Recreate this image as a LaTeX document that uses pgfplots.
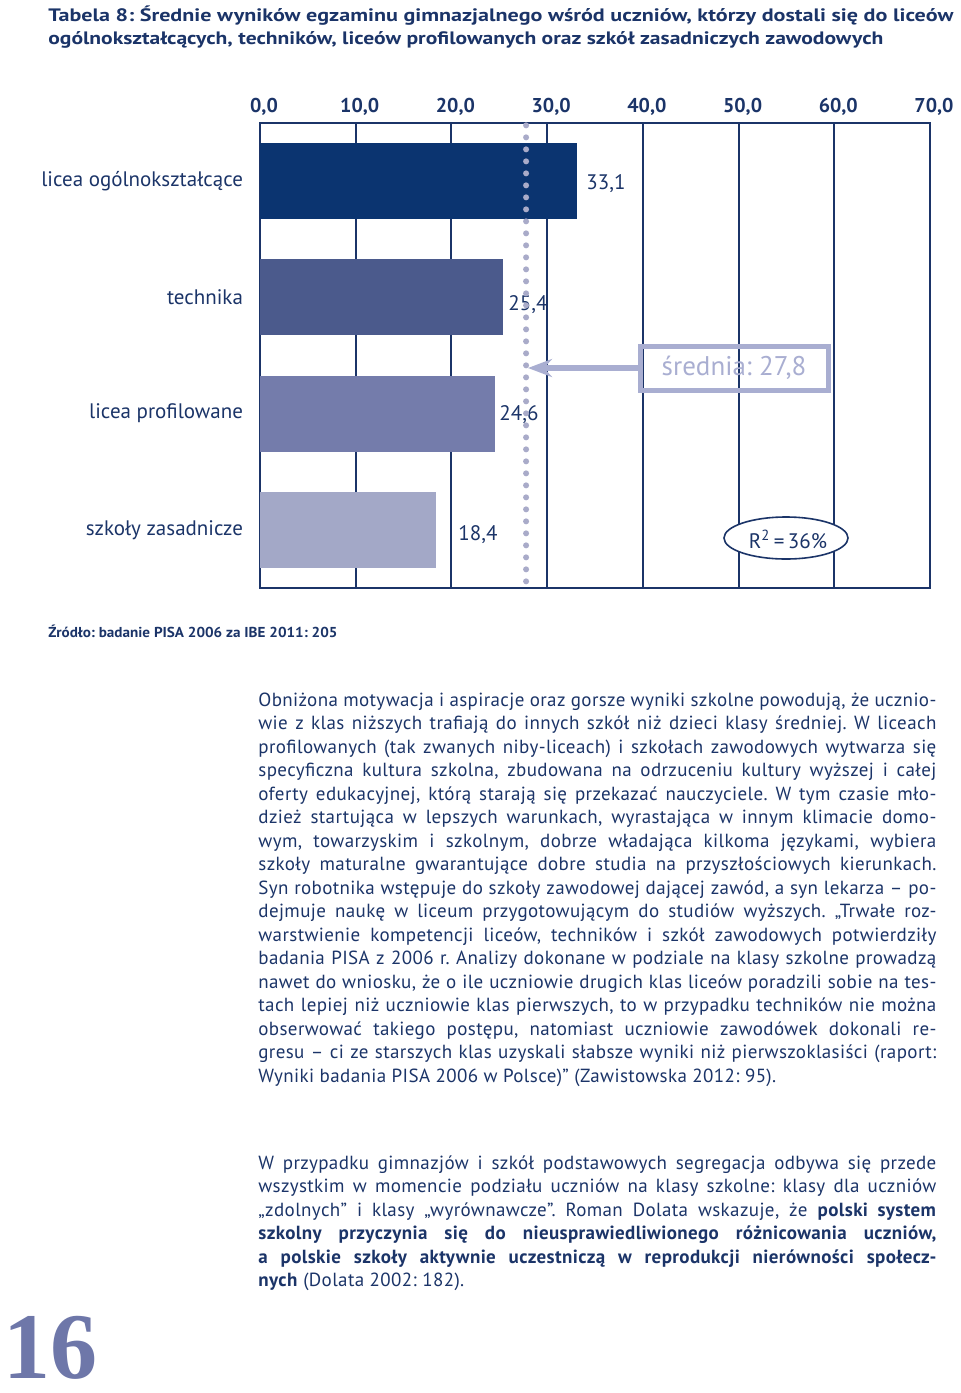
\documentclass[border=0pt]{standalone}
\usepackage{pgfplots}
\pgfplotsset{compat=1.18}
\usepackage{fontspec}
\setmainfont{PT Sans}
\newfontfamily\bodyfont[LetterSpace=2.0]{PT Sans}
\newfontfamily\numfont{Liberation Serif}
\usetikzlibrary{arrows.meta}
\frenchspacing

\definecolor{navy}{HTML}{1B3468}
\definecolor{barA}{HTML}{0B3470}
\definecolor{barB}{HTML}{4B5A8C}
\definecolor{barC}{HTML}{747CAB}
\definecolor{barD}{HTML}{A3A8C7}
\definecolor{dotc}{HTML}{A9ABC9}
\definecolor{boxc}{HTML}{A9AED1}
\definecolor{pagec}{HTML}{6E77A9}

% one justified line of body text, pixel coordinates
\newcommand\Line[2]{\node[anchor=base west,inner sep=0,text=navy] at (258,#1)
  {\bodyfont\fontsize{9.5}{11}\selectfont\makebox[339pt][s]{#2}};}
\newcommand\Last[2]{\node[anchor=base west,inner sep=0,text=navy] at (258,#1)
  {\bodyfont\fontsize{9.5}{11}\selectfont #2};}

\begin{document}
\begin{tikzpicture}
\begin{scope}[x=0.5pt,y=-0.5pt]
  \path[use as bounding box] (0,0) rectangle (960,1393);
  \node[anchor=base west,inner sep=0,text=navy] at (48,21)
    {\resizebox{452.5pt}{\height}{\bfseries\fontsize{9}{10}\selectfont Tabela 8: Średnie wyników egzaminu gimnazjalnego wśród uczniów, którzy dostali się do liceów}};
  \node[anchor=base west,inner sep=0,text=navy] at (48,44)
    {\resizebox{417.5pt}{\height}{\bfseries\fontsize{9}{10}\selectfont ogólnokształcących, techników, liceów profilowanych oraz szkół zasadniczych zawodowych}};
\end{scope}

\begin{axis}[
  at={(130pt,-294pt)}, anchor=south west,
  width=335pt, height=232.5pt, scale only axis,
  xmin=0, xmax=70, ymin=0.5, ymax=4.5, y dir=reverse,
  xbar, bar width=38pt, bar shift=0pt,
  axis line style={navy, line width=1pt},
  xmajorgrids, grid style={navy, line width=1pt},
  xtick={0,10,...,70}, xticklabel pos=upper,
  major tick length=0pt,
  /pgf/number format/assume math mode=true,
  xticklabel style={font=\bfseries\fontsize{10}{12}\selectfont, text=navy, xshift=2pt,
    /pgf/number format/.cd, fixed, fixed zerofill, precision=1, use comma},
  ytick={1,2,3,4},
  yticklabels={licea ogólnokształcące, technika, licea profilowane, szkoły zasadnicze},
  yticklabel style={font=\fontsize{10.5}{12}\selectfont, text=navy, xshift=-5pt},
  clip=false,
]
  \addplot[fill=barA, draw=none] coordinates {(33.1,1)};
  \addplot[fill=barB, draw=none] coordinates {(25.4,2)};
  \addplot[fill=barC, draw=none] coordinates {(24.6,3)};
  \addplot[fill=barD, draw=none] coordinates {(18.4,4)};
  \begin{scope}[every node/.style={anchor=west, inner sep=0, text=navy, font=\fontsize{10.5}{12}\selectfont}]
    \node at (axis cs:34.06,1.025) {33,1};
    \node at (axis cs:25.91,2.066) {25,4};
    \node at (axis cs:24.97,3.012) {24,6};
    \node at (axis cs:20.69,4.044) {18,4};
  \end{scope}
  \draw[dotc, line width=3pt, line cap=round, dash pattern=on 0pt off 6pt]
    (axis cs:27.8,0.52) -- (axis cs:27.8,4.54);
\end{axis}

\begin{scope}[x=0.5pt,y=-0.5pt]
  % average marker
  \draw[boxc, line width=3pt, -{Stealth[length=12pt, width=9pt, inset=4pt]}] (640,368) -- (528,368);
  \draw[boxc, line width=2.5pt] (640,346) rectangle (828,390);
  \node[text=boxc, font=\fontsize{13.5}{15}\selectfont] at (734,368) {średnia: 27,8};
  \draw[navy, line width=0.8pt, fill=white] (786,538) ellipse [x radius=62, y radius=21];
  \node[text=navy, font=\fontsize{10.5}{12}\selectfont, inner sep=0] at (788,539) {R\textsuperscript{2}\,=\,36\%};

  \node[anchor=base west,inner sep=0,text=navy] at (48,637)
    {\resizebox{144.5pt}{\height}{\bfseries\fontsize{7.2}{9}\selectfont Źródło: badanie PISA 2006 za IBE 2011: 205}};

  \Line{706}{Obniżona motywacja i aspiracje oraz gorsze wyniki szkolne powodują, że ucznio-}
  \Line{729.5}{wie z klas niższych trafiają do innych szkół niż dzieci klasy średniej. W liceach}
  \Line{753}{profilowanych (tak zwanych niby-liceach) i szkołach zawodowych wytwarza się}
  \Line{776.5}{specyficzna kultura szkolna, zbudowana na odrzuceniu kultury wyższej i całej}
  \Line{800}{oferty edukacyjnej, którą starają się przekazać nauczyciele. W tym czasie mło-}
  \Line{823.5}{dzież startująca w lepszych warunkach, wyrastająca w innym klimacie domo-}
  \Line{847}{wym, towarzyskim i szkolnym, dobrze władająca kilkoma językami, wybiera}
  \Line{870.5}{szkoły maturalne gwarantujące dobre studia na przyszłościowych kierunkach.}
  \Line{894}{Syn robotnika wstępuje do szkoły zawodowej dającej zawód, a syn lekarza – po-}
  \Line{917.5}{dejmuje naukę w liceum przygotowującym do studiów wyższych. „Trwałe roz-}
  \Line{941}{warstwienie kompetencji liceów, techników i szkół zawodowych potwierdziły}
  \Line{964.5}{badania PISA z 2006 r. Analizy dokonane w podziale na klasy szkolne prowadzą}
  \Line{988}{nawet do wniosku, że o ile uczniowie drugich klas liceów poradzili sobie na tes-}
  \Line{1011.5}{tach lepiej niż uczniowie klas pierwszych, to w przypadku techników nie można}
  \Line{1035}{obserwować takiego postępu, natomiast uczniowie zawodówek dokonali re-}
  \Line{1058.5}{gresu – ci ze starszych klas uzyskali słabsze wyniki niż pierwszoklasiści (raport:}
  \Last{1082}{Wyniki badania PISA 2006 w Polsce)” (Zawistowska 2012: 95).}

  \Line{1169}{W przypadku gimnazjów i szkół podstawowych segregacja odbywa się przede}
  \Line{1192.5}{wszystkim w momencie podziału uczniów na klasy szkolne: klasy dla uczniów}
  \Line{1216}{„zdolnych” i klasy „wyrównawcze”. Roman Dolata wskazuje, że \textbf{polski system}}
  \Line{1239.5}{\bfseries szkolny przyczynia się do nieusprawiedliwionego różnicowania uczniów,}
  \Line{1263}{\bfseries a polskie szkoły aktywnie uczestniczą w reprodukcji nierówności społecz-}
  \Last{1286.5}{\textbf{nych} (Dolata 2002: 182).}

  \node[anchor=base west,inner sep=0,text=pagec] at (3,1378)
    {\numfont\bfseries\fontsize{47}{47}\selectfont 16};
\end{scope}
\end{tikzpicture}
\end{document}
